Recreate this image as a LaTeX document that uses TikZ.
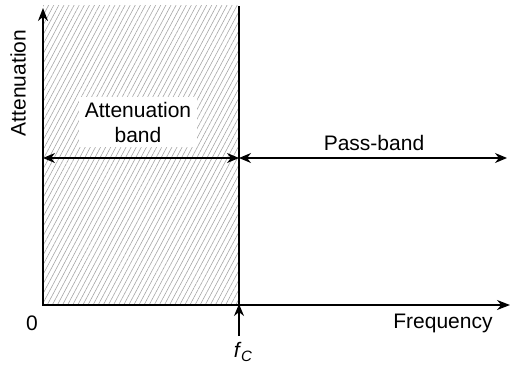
\documentclass[tikz,border=0pt]{standalone}
\usepackage{fontspec}
\setmainfont{Liberation Sans}
\usetikzlibrary{arrows.meta,patterns.meta}
\tikzset{
  axis/.style={line width=1.8pt, -{Stealth[length=13pt,width=10pt]}},
  band/.style={line width=1.2pt, {Stealth[length=12pt,width=10pt]}-{Stealth[length=12pt,width=10pt]}},
  lbl/.style={font=\fontsize{21}{25}\selectfont, inner sep=1pt},
  hatch/.style={pattern={Lines[angle=62,distance=4.5pt,line width=0.6pt]}, pattern color=black!35},
}
\begin{document}
\begin{tikzpicture}[x=1pt,y=-1pt]
\useasboundingbox (0,0) rectangle (511,365);
\coordinate (O) at (43,305);
\coordinate (ytop) at (43,8);
\coordinate (xend) at (510,305);
\coordinate (fctop) at (239,6);
\coordinate (fc) at (239,305);
\coordinate (fcbot) at (239,336);
\coordinate (L) at (43,158);
\coordinate (M) at (239,158);
\coordinate (R) at (507,158);
\coordinate (shtop) at (43,5);
% shaded attenuation band
\fill[hatch] (shtop) rectangle (fc);
\fill[white] (79,97) rectangle (197,147);
\node[lbl, align=center] (ab) at (138,122) {Attenuation\\band};
% lines
\draw[line width=1.8pt] (fctop) -- (fc);
\draw[axis] (O) -- (ytop);
\draw[axis] ([xshift=-0.9pt]O) -- (xend);
\draw[band] (L) -- (M);
\draw[band] (M) -- (R);
\draw[line width=1.2pt, -{Stealth[length=12pt,width=10pt]}] (fcbot) -- ([yshift=1pt]fc);
% labels
\node[lbl, rotate=90] (att) at (18,83) {Attenuation};
\node[lbl] (pb) at (374,143) {Pass-band};
\node[lbl] (fr) at (443,323) {Frequency};
\node[lbl] (zero) at (32,323) {0};
\node[lbl] (fcl) at (243,352) {\textit{f}\kern-0.5pt\raisebox{-0.35ex}{\fontsize{15}{18}\selectfont\textit{C}}};
\end{tikzpicture}
\end{document}
